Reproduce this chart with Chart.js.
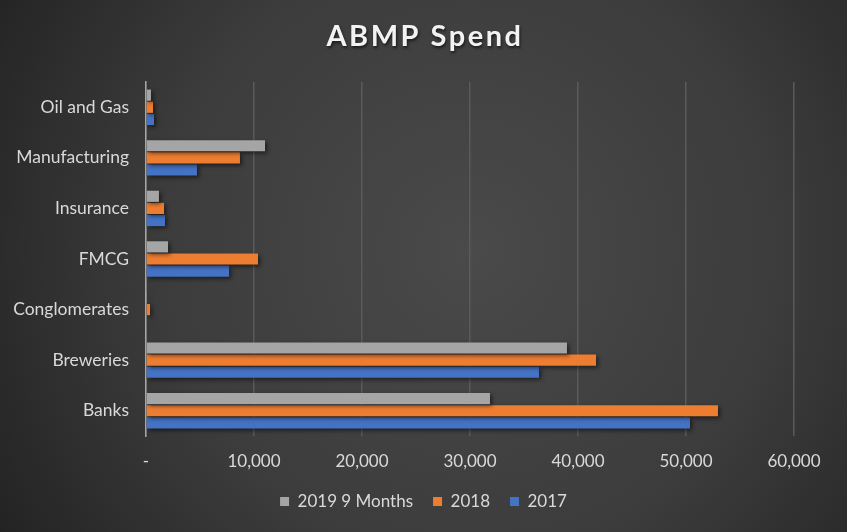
<!DOCTYPE html>
<html>
<head>
<meta charset="utf-8">
<script src="https://cdn.jsdelivr.net/npm/chart.js@4"></script>
<style>
  html, body { margin: 0; padding: 0; background: #333; }
  #wrap { width: 847px; height: 532px; }
</style>
</head>
<body>
<div id="wrap"><canvas id="c" width="847" height="532"></canvas></div>
<script>
const chartTitle = 'ABMP Spend';
const categories = ['Oil and Gas', 'Manufacturing', 'Insurance', 'FMCG', 'Conglomerates', 'Breweries', 'Banks'];
const seriesNames = ['2019 9 Months', '2018', '2017'];
const values2019_9M = [460, 11020, 1200, 2040, 40, 38980, 31850];
const values2018 = [650, 8700, 1670, 10370, 370, 41670, 52960];
const values2017 = [740, 4720, 1760, 7690, 80, 36390, 50370];
const xTicks = [0, 10000, 20000, 30000, 40000, 50000, 60000];
const colors = ['#a5a5a5', '#ed7d31', '#4472c4'];

const bgPlugin = {
  id: 'bg',
  beforeDraw(chart) {
    const ctx = chart.ctx;
    const w = chart.width, h = chart.height;
    ctx.save();
    const g = ctx.createRadialGradient(470, 250, 0, 470, 250, 560);
    g.addColorStop(0, '#4a4a4a');
    g.addColorStop(0.55, '#3c3c3c');
    g.addColorStop(1, '#222222');
    ctx.fillStyle = g;
    ctx.fillRect(0, 0, w, h);
    ctx.restore();
  },
  beforeDatasetsDraw(chart) {
    const ctx = chart.ctx;
    ctx.save();
    ctx.shadowColor = 'rgba(0,0,0,0.55)';
    ctx.shadowBlur = 4;
    ctx.shadowOffsetX = 2;
    ctx.shadowOffsetY = 2;
  },
  afterDatasetsDraw(chart) {
    chart.ctx.restore();
  },
  afterDraw(chart) {
    const ctx = chart.ctx;
    ctx.save();
    ctx.font = 'bold 29px Lato';
    try { ctx.letterSpacing = '2.5px'; } catch (e) {}
    ctx.textAlign = 'center';
    ctx.textBaseline = 'middle';
    ctx.shadowColor = 'rgba(0,0,0,0.6)';
    ctx.shadowBlur = 3;
    ctx.shadowOffsetX = 1;
    ctx.shadowOffsetY = 2;
    ctx.fillStyle = '#f2f2f2';
    ctx.fillText(chartTitle, chart.width / 2 + 1.5, 37);
    ctx.restore();
  }
};

new Chart(document.getElementById('c'), {
  type: 'bar',
  data: {
    labels: categories,
    datasets: [
      { label: seriesNames[0], data: values2019_9M, backgroundColor: colors[0], xAxisID: 'x', yAxisID: 'y' },
      { label: seriesNames[1], data: values2018, backgroundColor: colors[1], xAxisID: 'x', yAxisID: 'y' },
      { label: seriesNames[2], data: values2017, backgroundColor: colors[2], xAxisID: 'x', yAxisID: 'y' }
    ]
  },
  options: {
    indexAxis: 'y',
    responsive: false,
    animation: false,
    devicePixelRatio: 1,
    categoryPercentage: 0.72,
    barPercentage: 0.92,
    layout: { padding: { left: 0, right: 0, top: 82, bottom: 12 } },
    plugins: {
      title: { display: false },
      legend: {
        position: 'bottom',
        labels: {
          color: '#d9d9d9',
          font: { family: 'Lato', size: 17 },
          boxWidth: 9,
          boxHeight: 9,
          padding: 20
        }
      },
      tooltip: { enabled: false }
    },
    scales: {
      x: {
        min: 0,
        max: 60000,
        afterBuildTicks(scale) {
          scale.ticks = xTicks.map(v => ({ value: v }));
        },
        afterFit(scale) { scale.height = 37; },
        ticks: {
          color: '#d9d9d9',
          font: { family: 'Lato', size: 17 },
          padding: 15,
          maxRotation: 0,
          callback(v) { return v === 0 ? '-' : Number(v).toLocaleString('en-US'); }
        },
        grid: { color: '#5a5a5a', lineWidth: 1.5, drawTicks: false },
        border: { display: false }
      },
      y: {
        afterFit(scale) { scale.width = 146; },
        ticks: {
          color: '#d9d9d9',
          font: { family: 'Lato', size: 17.5 },
          padding: 17
        },
        grid: { display: false, drawTicks: false },
        border: { display: true, color: '#a6a6a6', width: 1.5 }
      },
      yRight: {
        type: 'category',
        position: 'right',
        labels: categories,
        afterFit(scale) { scale.width = 53; },
        ticks: { display: false },
        grid: { display: false, drawTicks: false },
        border: { display: false }
      }
    }
  },
  plugins: [bgPlugin]
});
</script>
</body>
</html>
